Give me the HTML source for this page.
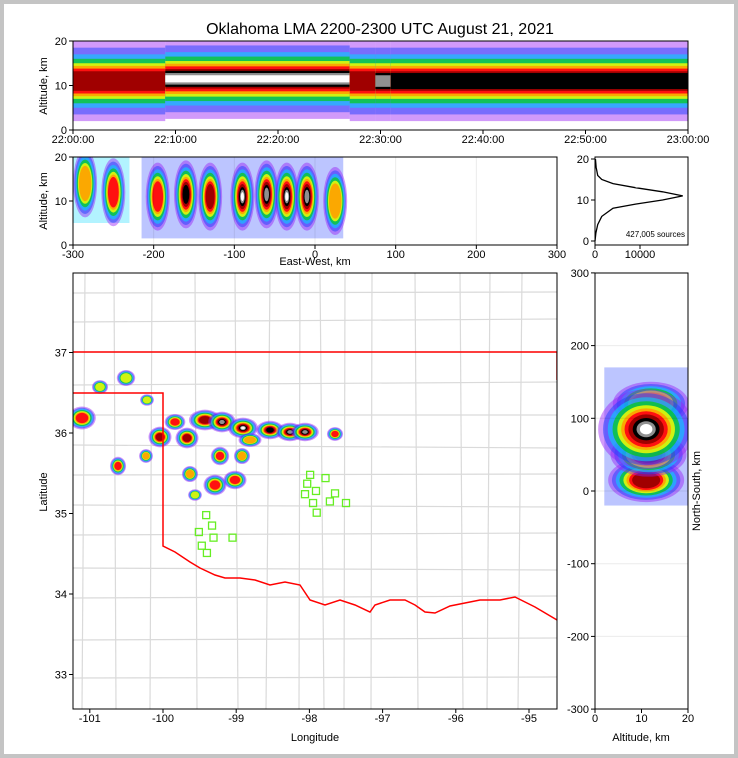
<!DOCTYPE html>
<html><head><meta charset="utf-8"><style>
body{margin:0;background:#fff}
#wrap{width:738px;height:758px;position:relative;overflow:hidden}
svg text{font-family:"Liberation Sans",sans-serif}
</style></head><body>
<div id="wrap">
<svg id="s" width="738" height="758" viewBox="0 0 738 758" xmlns="http://www.w3.org/2000/svg">
<rect x="2" y="2" width="734" height="754" fill="#fff" stroke="#c4c4c4" stroke-width="4"/>
<text x="380" y="34" font-size="16" text-anchor="middle">Oklahoma LMA 2200-2300 UTC August 21, 2021</text>
<defs>
<clipPath id="c1"><rect x="73" y="41" width="615" height="89"/></clipPath>
<clipPath id="c2"><rect x="73" y="157" width="484" height="88"/></clipPath>
<clipPath id="c4"><rect x="73" y="273" width="484" height="436"/></clipPath>
<clipPath id="c5"><rect x="595" y="273" width="93" height="436"/></clipPath>
</defs>
<g id="g4" clip-path="url(#c4)"></g>
<g id="g1" clip-path="url(#c1)"></g>
<g id="g2" clip-path="url(#c2)"></g>
<g id="g3"></g>
<g id="g5" clip-path="url(#c5)"></g>
<g id="axes"></g>
</svg>
</div>
<script>
// ---- data ----
const segStart=[0,9,27,29.5,31];
const segEnd=[9,27,29.5,31,60];
const segCenter=[11,11.5,11,11,11];
const segLevel=[7,10,7,9,8];
const ewPos=[-285,-250,-195,-160,-130,-90,-60,-35,-10,25];
const ewAlt=[14,12,11,11.5,11,11,11.5,11,11,10];
const ewLevel=[5,6,6,8,7,10,9,10,9,5];
const histAlt=[0,1,2,4,6,8,9,10,11,12,13,14,15,16,18,20];
const histCount=[0,100,200,600,1500,4000,9000,15000,19500,15000,9000,4000,1500,600,250,100];
const cellX=[82,100,126,147,160,175,187,205,222,243,270,290,305,335,118,146,190,220,242,215,235,195,250];
const cellY=[418,387,378,400,437,422,438,420,422,428,430,432,432,434,466,456,474,456,456,485,480,495,440];
const cellLevel=[6,4,4,4,7,6,7,7,9,10,8,9,9,6,6,5,5,6,5,6,6,4,5];
const cellRx=[12,7,8,6,10,9,10,14,12,13,12,12,12,7,7,6,7,8,7,10,10,6,10];
const cellRy=[10,6,7,5,9,7,9,9,9,9,8,8,8,6,8,6,7,8,7,9,8,5,6];
const sqLon=[-97.99,-97.78,-98.03,-97.91,-97.65,-98.06,-97.95,-97.72,-97.5,-97.9,-99.41,-99.33,-99.51,-99.31,-99.05,-99.47,-99.4];
const sqLat=[35.48,35.44,35.37,35.28,35.25,35.24,35.13,35.15,35.13,35.01,34.98,34.85,34.77,34.7,34.7,34.6,34.51];
const nsPos=[85,50,15,120];
const nsAlt=[11,11.5,11,12];
const nsLevel=[10,7,7,5];
// ---- helpers ----
const NS="http://www.w3.org/2000/svg";
const cols=["#9a1ef5","#2040ff","#00d8ff","#00d000","#ffff00","#ffa000","#ff1010","#a00000","#000000","#909090","#ffffff"];
const scl=[1,0.9,0.8,0.7,0.6,0.52,0.45,0.37,0.28,0.2,0.13];
const opa=[0.45,0.5,0.55,0.65,0.8,0.9,1,1,1,1,1];
function mk(p,t,a){const e=document.createElementNS(NS,t);for(const k in a)e.setAttribute(k,a[k]);p.appendChild(e);return e;}
function blob(g,cx,cy,rx,ry,lv,name){
  for(let i=0;i<=lv;i++){const s=scl[i];
    const e=mk(g,"ellipse",{cx:cx,cy:cy,rx:rx*s,ry:ry*s,fill:cols[i],"fill-opacity":opa[i]});
    
    }
}
// panel 1
const tx=m=>73+m*615/60, ay1=a=>130-a*4.45;
const g1=document.getElementById("g1");
const hw=[9,7.5,6,5,4,3.4,2.8,2.2,1.8,1.3,0.8];
for(let k=0;k<segStart.length;k++){
  for(let i=0;i<=segLevel[k];i++){
    const r=mk(g1,"rect",{x:tx(segStart[k]),y:ay1(segCenter[k]+hw[i]),width:tx(segEnd[k])-tx(segStart[k]),height:hw[i]*2*4.45,fill:cols[i],"fill-opacity":opa[i]});
    
    
  }
}
// panel 2
const ex=v=>73+(v+300)*484/600, ay2=a=>245-a*4.4;
const g2=document.getElementById("g2");
[[-215,35,1.5,20,1],[-300,-230,5,20,2]].forEach(b=>{
  const r=mk(g2,"rect",{x:ex(b[0]),y:ay2(b[3]),width:ex(b[1])-ex(b[0]),height:(b[3]-b[2])*4.4,fill:cols[b[4]],opacity:0.3});
  });
for(let i=0;i<ewPos.length;i++)blob(g2,ex(ewPos[i]),ay2(ewAlt[i]),12,34,ewLevel[i],'ew-cell');
// panel 3
const g3=document.getElementById("g3");
const hx=c=>595+c*0.0045, hy=a=>241-a*4.1;
let d="";histAlt.forEach((a,i)=>{d+=(i?"L":"M")+hx(histCount[i])+","+hy(histAlt[i]);});
const hp=mk(g3,"path",{d:d,fill:"none",stroke:"#000","stroke-width":1.3});

// panel 4
const g4=document.getElementById("g4");
const lx=l=>163+(l+100)*73.2, ly=l=>433-(l-36)*80.5;
const vx=[85,114,152,195,235,270,300,320,345,372,415,460,490,522],hy4=[293,322,352,385,415,445,475,505,535,568,598,640,678];
vx.forEach(x=>{const l=mk(g4,"line",{x1:x,y1:273,x2:x+((x*7)%9-4),y2:709,stroke:"#dadada","stroke-width":1.2});});
hy4.forEach(y=>{const l=mk(g4,"line",{x1:73,y1:y,x2:557,y2:y+((y*5)%7-3),stroke:"#dadada","stroke-width":1.2});});
for(let i=0;i<cellX.length;i++)blob(g4,cellX[i],cellY[i],cellRx[i]*1.15,cellRy[i]*1.15,cellLevel[i],'storm-cell');
const border="M73,352 L557,352 L557,380 M73,393 L163,393 L163,546 L175,552 L190,562 L200,568 L215,575 L225,578 L240,578 L255,580 L270,585 L285,582 L300,585 L310,600 L325,605 L340,600 L355,605 L370,612 L375,605 L390,600 L405,600 L415,605 L425,612 L435,613 L450,606 L465,603 L480,600 L500,600 L515,597 L535,607 L557,620";
const bp=mk(g4,"path",{d:border,fill:"none",stroke:"#ff0000","stroke-width":1.5});

for(let i=0;i<sqLon.length;i++){const r=mk(g4,"rect",{x:lx(sqLon[i])-3.5,y:ly(sqLat[i])-3.5,width:7,height:7,fill:"none",stroke:"#66ee22","stroke-width":1.3});
  }
// panel 5
const g5=document.getElementById("g5");
const ax5=a=>595+a*4.65, ny=v=>491-v*0.727;
[[-20,170,1]].forEach(b=>{const r=mk(g5,"rect",{x:ax5(2),y:ny(b[1]),width:ax5(20)-ax5(2),height:(b[1]-b[0])*0.727,fill:cols[b[2]],opacity:0.3});
  });
for(let i=nsPos.length-1;i>=0;i--)blob(g5,ax5(nsAlt[i]),ny(nsPos[i]),i==0?48:38,i==0?40:22,nsLevel[i],'ns-cell');
// ---- axes ----
const A=document.getElementById("axes");
function frame(x,y,w,h,n){const r=mk(A,"rect",{x:x,y:y,width:w,height:h,fill:"none",stroke:"#000","stroke-width":1});}
function txt(x,y,s,anc,n,fs,rot){const t=mk(A,"text",{x:x,y:y,"font-size":fs||11,"text-anchor":anc||"middle"});if(rot)t.setAttribute("transform","rotate(-90 "+x+" "+y+")");t.textContent=s;}
function tk(x1,y1,x2,y2){mk(A,"line",{x1:x1,y1:y1,x2:x2,y2:y2,stroke:"#000"});}
frame(73,41,615,89,'time-height-frame');frame(73,157,484,88,'ew-frame');frame(595,157,93,88,'hist-frame');frame(73,273,484,436,'map-frame');frame(595,273,93,436,'ns-frame');
const tLabels=["22:00:00","22:10:00","22:20:00","22:30:00","22:40:00","22:50:00","23:00:00"];
tLabels.forEach((s,i)=>{const x=tx(i*10);tk(x,130,x,134);txt(x,143,s,"middle","time-tick");});
[0,10,20].forEach(v=>{tk(69,ay1(v),73,ay1(v));txt(67,ay1(v)+4,v,"end","alt-tick");});
txt(47,86,"Altitude, km","middle","y-axis-title",11,true);
[-300,-200,-100,0,100,200,300].forEach(v=>{const x=ex(v);tk(x,245,x,249);txt(x,258,v,"middle","ew-tick");mk(A,"line",{x1:x,y1:157,x2:x,y2:245,stroke:"#000","stroke-opacity":0.08});});
[0,10,20].forEach(v=>{tk(69,ay2(v),73,ay2(v));txt(67,ay2(v)+4,v,"end","alt-tick");});
txt(47,201,"Altitude, km","middle","y-axis-title",11,true);
txt(315,265,"East-West, km","middle","x-axis-title");
[0,10,20].forEach(v=>{tk(591,hy(v),595,hy(v));txt(589,hy(v)+4,v,"end","hist-tick");});
[[0,"0"],[10000,"10000"]].forEach(v=>{tk(hx(v[0]),245,hx(v[0]),249);txt(hx(v[0]),258,v[1],"middle","hist-tick");});
txt(685,237,"427,005 sources","end","source-count",8);
const lonT=[-101,-100,-99,-98,-97,-96,-95];lonT.forEach(v=>{const x=lx(v);tk(x,709,x,713);txt(x,722,v,"middle","lon-tick");});
const latT=[37,36,35,34,33];latT.forEach(v=>{const y=ly(v);tk(69,y,73,y);txt(67,y+4,v,"end","lat-tick");});
txt(315,741,"Longitude","middle","x-axis-title");txt(47,492,"Latitude","middle","y-axis-title",11,true);
[300,200,100,0,-100,-200,-300].forEach(v=>{const y=ny(v);tk(591,y,595,y);txt(589,y+4,v,"end","ns-tick");mk(A,"line",{x1:595,y1:y,x2:688,y2:y,stroke:"#000","stroke-opacity":0.08});});
[0,10,20].forEach(v=>{const x=ax5(v);tk(x,709,x,713);txt(x,722,v,"middle","ns-alt-tick");});
txt(641,741,"Altitude, km","middle","x-axis-title");txt(700,491,"North-South, km","middle","y-axis-title",11,true);
</script>
</body></html>
